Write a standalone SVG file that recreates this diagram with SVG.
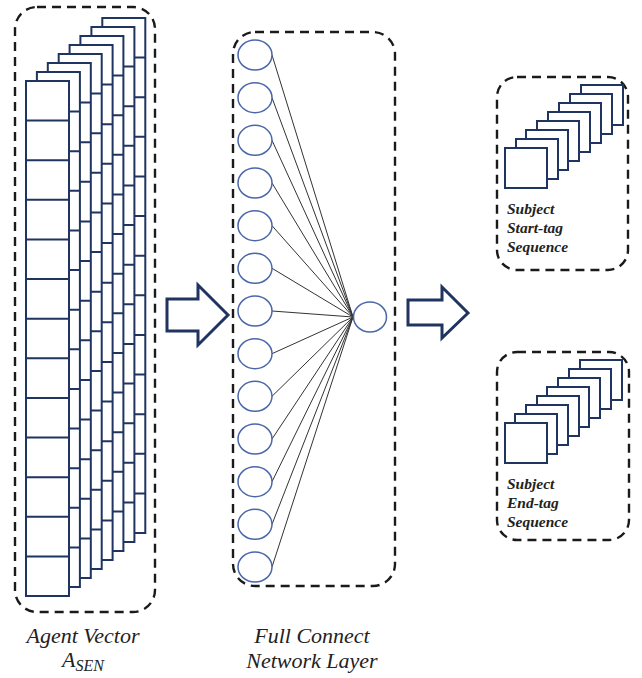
<svg xmlns="http://www.w3.org/2000/svg" xmlns:xlink="http://www.w3.org/1999/xlink" width="642" height="678" viewBox="0 0 642 678">
<style>
.dash{fill:none;stroke:#1a1a1a;stroke-width:2.4;stroke-dasharray:9 6}
.cell{fill:#fff;stroke:#1f3461;stroke-width:2}
.cl{stroke:#1f3461;stroke-width:2}
.sq{fill:#fff;stroke:#1f3461;stroke-width:2}
.neu{fill:#fff;stroke:#4a67a8;stroke-width:1.5}
.edge{stroke:#333;stroke-width:1}
.arr{fill:#fff;stroke:#1f3461;stroke-width:3;stroke-linejoin:miter}
.lbl{font-family:"Liberation Serif","Times New Roman",serif;font-style:italic;font-size:22px;fill:#222}
.tag{font-family:"Liberation Serif","Times New Roman",serif;font-style:italic;font-weight:bold;font-size:15.5px;fill:#222}
</style>
<defs>
<g id="col">
<rect class="cell" x="0" y="0" width="43" height="515"/>
<path class="cl" d="M0 39.6H43M0 79.2H43M0 118.8H43M0 158.5H43M0 198.1H43M0 237.7H43M0 277.3H43M0 316.9H43M0 356.5H43M0 396.2H43M0 435.8H43M0 475.4H43"/>
</g>
<rect id="sqr" class="sq" x="0" y="0" width="42" height="40"/>
</defs>

<g id="agent-vector">
<rect class="dash" x="15" y="7" width="140" height="605" rx="22"/>
<use xlink:href="#col" x="102.3" y="18"/>
<use xlink:href="#col" x="91.4" y="27"/>
<use xlink:href="#col" x="80.4" y="36"/>
<use xlink:href="#col" x="69.6" y="45"/>
<use xlink:href="#col" x="58.7" y="54"/>
<use xlink:href="#col" x="47.8" y="63"/>
<use xlink:href="#col" x="36.9" y="72"/>
<use xlink:href="#col" x="26" y="81"/>
<text class="lbl" x="83" y="643" text-anchor="middle">Agent Vector</text>
<text class="lbl" x="83" y="667" text-anchor="middle">A<tspan font-size="16" dy="4">SEN</tspan></text>
</g>

<g id="connectors">
<polygon class="arr" points="167,299 198,299 198,285 228,315 198,345 198,331 167,331"/>
<polygon class="arr" points="408,300 442,300 442,287 468,313 442,338 442,325 408,325"/>
<g class="edge">
<line x1="272" y1="55" x2="353" y2="317"/>
<line x1="272" y1="97.7" x2="353" y2="317"/>
<line x1="272" y1="140.3" x2="353" y2="317"/>
<line x1="272" y1="183" x2="353" y2="317"/>
<line x1="272" y1="225.7" x2="353" y2="317"/>
<line x1="272" y1="268.3" x2="353" y2="317"/>
<line x1="272" y1="311" x2="353" y2="317"/>
<line x1="272" y1="353.7" x2="353" y2="317"/>
<line x1="272" y1="396.3" x2="353" y2="317"/>
<line x1="272" y1="439" x2="353" y2="317"/>
<line x1="272" y1="481.7" x2="353" y2="317"/>
<line x1="272" y1="524.3" x2="353" y2="317"/>
<line x1="272" y1="567" x2="353" y2="317"/>
</g>
</g>

<g id="full-connect-layer">
<rect class="dash" x="233" y="32" width="162" height="554" rx="22"/>
<ellipse class="neu" cx="255" cy="55" rx="17" ry="15"/>
<ellipse class="neu" cx="255" cy="97.7" rx="17" ry="15"/>
<ellipse class="neu" cx="255" cy="140.3" rx="17" ry="15"/>
<ellipse class="neu" cx="255" cy="183" rx="17" ry="15"/>
<ellipse class="neu" cx="255" cy="225.7" rx="17" ry="15"/>
<ellipse class="neu" cx="255" cy="268.3" rx="17" ry="15"/>
<ellipse class="neu" cx="255" cy="311" rx="17" ry="15"/>
<ellipse class="neu" cx="255" cy="353.7" rx="17" ry="15"/>
<ellipse class="neu" cx="255" cy="396.3" rx="17" ry="15"/>
<ellipse class="neu" cx="255" cy="439" rx="17" ry="15"/>
<ellipse class="neu" cx="255" cy="481.7" rx="17" ry="15"/>
<ellipse class="neu" cx="255" cy="524.3" rx="17" ry="15"/>
<ellipse class="neu" cx="255" cy="567" rx="17" ry="15"/>
<text class="lbl" x="312" y="643" text-anchor="middle" font-size="23">Full Connect</text>
<text class="lbl" x="312" y="668" text-anchor="middle" font-size="23">Network Layer</text>
</g>

<g id="output-neuron">
<ellipse class="neu" cx="370" cy="317" rx="16.5" ry="15"/>
</g>

<g id="start-tag">
<rect class="dash" x="497" y="77" width="131" height="193" rx="20"/>
<use xlink:href="#sqr" x="581" y="85"/>
<use xlink:href="#sqr" x="570" y="94"/>
<use xlink:href="#sqr" x="559" y="103"/>
<use xlink:href="#sqr" x="548" y="112"/>
<use xlink:href="#sqr" x="537" y="121"/>
<use xlink:href="#sqr" x="526" y="130"/>
<use xlink:href="#sqr" x="516" y="139"/>
<use xlink:href="#sqr" x="505" y="148"/>
<text class="tag" x="507" y="214">Subject</text>
<text class="tag" x="507" y="233">Start-tag</text>
<text class="tag" x="507" y="252">Sequence</text>
</g>

<g id="end-tag">
<rect class="dash" x="497" y="352" width="132" height="188" rx="20"/>
<use xlink:href="#sqr" x="580" y="360"/>
<use xlink:href="#sqr" x="569" y="369"/>
<use xlink:href="#sqr" x="558" y="378"/>
<use xlink:href="#sqr" x="547" y="387"/>
<use xlink:href="#sqr" x="537" y="396"/>
<use xlink:href="#sqr" x="526" y="405"/>
<use xlink:href="#sqr" x="515" y="414"/>
<use xlink:href="#sqr" x="505" y="423"/>
<text class="tag" x="507" y="489">Subject</text>
<text class="tag" x="507" y="508">End-tag</text>
<text class="tag" x="507" y="527">Sequence</text>
</g>
</svg>
